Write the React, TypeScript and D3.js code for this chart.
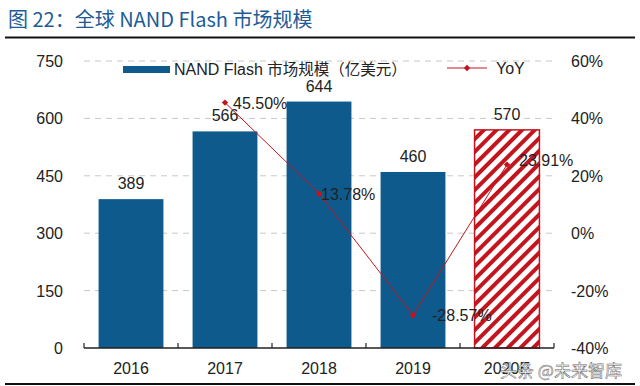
import React from "react";
import * as d3 from "d3";

const categories = ["2016", "2017", "2018", "2019", "2020E"];
const marketSize = [389, 566, 644, 460, 570];
const yoy = [null, 45.5, 13.78, -28.57, 23.91];
const leftTicks = [0, 150, 300, 450, 600, 750];
const rightTicks = [-40, -20, 0, 20, 40, 60];

const W = 640, H = 386;
const plotLeft = 84, plotRight = 554, plotTop = 61, plotBottom = 348;
const font = "'Liberation Sans', Arial, sans-serif";

export default function App() {
  const x = d3.scaleBand<string>().domain(categories).range([plotLeft, plotRight]).paddingInner(0.31).paddingOuter(0.155);
  const xb = d3.scaleBand<string>().domain(categories).range([plotLeft, plotRight]);
  const yL = d3.scaleLinear().domain([0, 750]).range([plotBottom, plotTop]);
  const yR = d3.scaleLinear().domain([-40, 60]).range([plotBottom, plotTop]);
  const pts = categories
    .map((c, i) => ({ c, v: yoy[i] }))
    .filter((d) => d.v !== null) as { c: string; v: number }[];
  const line = d3.line<{ c: string; v: number }>()
    .x((d) => (xb(d.c) as number) + xb.bandwidth() / 2)
    .y((d) => yR(d.v));
  const labelOffsets: Record<string, [number, number, string]> = {
    "2017": [8, 5, "start"],
    "2018": [2, 5, "start"],
    "2019": [19, 5, "start"],
    "2020E": [12, 0, "start"],
  };
  const diamond = (cx: number, cy: number, r = 3.2) => `M${cx},${cy - r}L${cx + r},${cy}L${cx},${cy + r}L${cx - r},${cy}Z`;
  const red = "#c4151f";
  const blue = "#0e5a8c";
  return (
    <svg width={W} height={H} style={{ position: "absolute", left: 0, top: 0, background: "#fff" }} fontFamily={font}>
      <defs>
        <pattern id="hatch" patternUnits="userSpaceOnUse" width="9" height="9" patternTransform="rotate(45)">
          <rect width="9" height="9" fill="#fff" />
          <rect x="0" y="0" width="4" height="9" fill={red} />
        </pattern>
      </defs>
      <rect width={W} height={H} fill="#fff" />
      <text x={8} y={27} fontSize={20} fill="#1d5c97" fontFamily="'Noto Sans CJK SC', sans-serif">图 22：全球 NAND Flash 市场规模</text>
      <line x1={5} x2={635} y1={37.5} y2={37.5} stroke="#111" strokeWidth={2} />
      {leftTicks.map((t) => (
        <g key={t}>
          {t > 0 && <line x1={plotLeft} x2={plotRight} y1={yL(t)} y2={yL(t)} stroke="#c8c8c8" strokeDasharray="6,5" strokeWidth={1} />}
          <text x={63} y={yL(t) + 6} fontSize={16} textAnchor="end" fill="#222">{t}</text>
        </g>
      ))}
      {rightTicks.map((t) => (
        <text key={t} x={571} y={yR(t) + 6} fontSize={16} textAnchor="start" fill="#222">{t}%</text>
      ))}
      {categories.map((c, i) => {
        const bx = x(c) as number;
        const top = yL(marketSize[i]);
        const isE = c.endsWith("E");
        return (
          <g key={c}>
            <rect x={bx} y={top} width={x.bandwidth()} height={plotBottom - top}
              fill={isE ? "url(#hatch)" : blue} stroke={isE ? red : "none"} strokeWidth={1.5} />
            <text x={bx + x.bandwidth() / 2} y={top - 10} fontSize={16} textAnchor="middle" fill="#222">{marketSize[i]}</text>
            <text x={(xb(c) as number) + xb.bandwidth() / 2} y={374} fontSize={16} textAnchor="middle" fill="#222">{c}</text>
          </g>
        );
      })}
      <line x1={plotLeft} x2={plotRight} y1={plotBottom} y2={plotBottom} stroke="#222" strokeWidth={1.5} />
      {categories.concat(["end"]).map((c, i) => {
        const tx = plotLeft + i * xb.bandwidth();
        return <line key={"t" + i} x1={tx} x2={tx} y1={plotBottom} y2={plotBottom - 5} stroke="#222" strokeWidth={1.2} />;
      })}
      <path d={line(pts) as string} fill="none" stroke={red} strokeWidth={1} />
      {pts.map((p) => {
        const cx = (xb(p.c) as number) + xb.bandwidth() / 2;
        const cy = yR(p.v);
        const [dx, dy, anchor] = labelOffsets[p.c];
        return (
          <g key={"p" + p.c}>
            <path d={diamond(cx, cy)} fill={red} />
            <text x={cx + dx} y={cy + dy + 1} fontSize={16} textAnchor={anchor as any} fill="#222">{p.v.toFixed(2)}%</text>
          </g>
        );
      })}
      <rect x={123} y={66} width={47} height={7} fill={blue} />
      <text x={174} y={75} fontSize={16} fill="#222">NAND Flash <tspan fontFamily="'Noto Sans CJK SC', sans-serif" fontSize={15.5}>市场规模（亿美元）</tspan></text>
      <line x1={447} x2={487} y1={68} y2={68} stroke={red} strokeWidth={1} />
      <path d={diamond(467, 68)} fill={red} />
      <text x={496} y={74} fontSize={16} fill="#222">YoY</text>
      <text x={500} y={377} fontSize={17} fill="#fff" stroke="#666" strokeWidth={0.5} fontFamily="'Noto Sans CJK SC', sans-serif">头条 @未来智库</text>
      <line x1={5} x2={635} y1={384} y2={384} stroke="#111" strokeWidth={2} />
    </svg>
  );
}
